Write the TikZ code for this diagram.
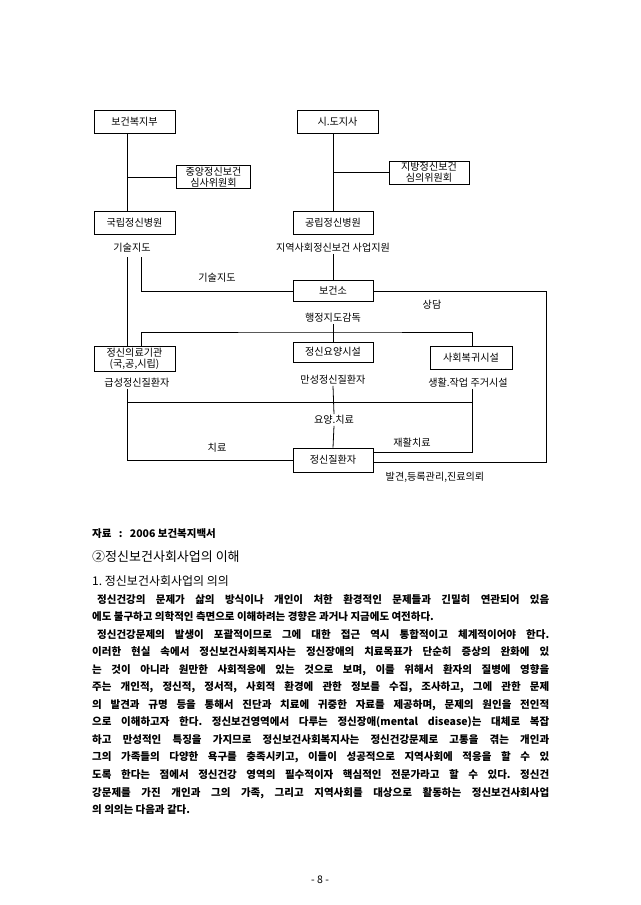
\documentclass[tikz,border=0pt]{standalone}
\usepackage{fontspec}
\setmainfont{Noto Sans CJK KR}
\frenchspacing
\newcommand{\dtext}{\fontsize{10.1}{11.3}\selectfont}
\newcommand{\btext}{\fontsize{10.5}{12}\selectfont}
\newcommand{\jl}[1]{\makebox[457pt][s]{#1}}
\newcommand{\jli}[1]{\makebox[452pt][s]{#1}}
\begin{document}
\begin{tikzpicture}[x=1pt,y=-1pt,
  box/.style={draw, line width=0.8pt, minimum height=23pt, inner sep=1pt, font=\dtext, align=center},
  lbl/.style={font=\dtext, inner sep=1pt},
  conn/.style={line width=0.8pt},
  bodyln/.style={anchor=base west, inner sep=0pt, font=\bfseries\btext}]
\fill[white] (0,0) rectangle (640,905);
\useasboundingbox (0,0) rectangle (640,905);

% boxes
\node[box, minimum width=81pt] (mohw) at (134.5,121.5) {보건복지부};
\node[box, minimum width=81pt] (sido) at (337.5,121.5) {시.도지사};
\node[box, minimum width=74pt] (central) at (213.5,177) {중앙정신보건\\심사위원회};
\node[box, minimum width=80pt] (regional) at (429,172.5) {지방정신보건\\심의위원회};
\node[box, minimum width=81pt] (natl) at (134.5,223) {국립정신병원};
\node[box, minimum width=80pt] (publ) at (333,223) {공립정신병원};
\node[box, minimum width=80pt, minimum height=21pt] (health) at (333,291) {보건소};
\node[box, minimum width=81pt, minimum height=25pt] (medinst) at (134.5,358.5) {정신의료기관\\(국,공,시립)};
\node[box, minimum width=80pt, minimum height=20pt] (nursing) at (333,352) {정신요양시설};
\node[box, minimum width=82pt] (rehab) at (471,357.5) {사회복귀시설};
\node[box, minimum width=80pt, minimum height=24pt] (patient) at (333,460) {정신질환자};

% labels
\node[lbl] (ttech1) at (132,248) {기술지도};
\node[lbl] (tcomm) at (333,248) {지역사회정신보건 사업지원};
\node[lbl] (ttech2) at (217,278) {기술지도};
\node[lbl] (tcounsel) at (432,305) {상담};
\node[lbl] (tadmin) at (333,318) {행정지도감독};
\node[lbl] (tacute) at (137,383) {급성정신질환자};
\node[lbl] (tchronic) at (333,380) {만성정신질환자};
\node[lbl] (tlife) at (468,383) {생활.작업 주거시설};
\node[lbl] (tcare) at (334,420) {요양.치료};
\node[lbl] (ttreat) at (217,448) {치료};
\node[lbl] (trehab) at (412,443) {재활치료};
\node[lbl] (tfind) at (435,477) {발견,등록관리,진료의뢰};

% connectors
\coordinate (techtop) at (134.5,257);
\coordinate (bar1) at (333,332);
\coordinate (bar2) at (333,402);
\coordinate (rc) at (546,462);

\draw[conn] ([xshift=-7.5pt]mohw.south) -- ([xshift=-7.5pt]natl.north);
\draw[conn] (central.west) -- ([xshift=-7.5pt]mohw.south |- central.west);
\draw[conn] ([xshift=-4.5pt]sido.south) -- (publ.north);
\draw[conn] (regional.west) -- (publ.north |- regional.west);
\draw[conn] (tcomm.south) -- (health.north);
\draw[conn] ([xshift=-7.5pt]medinst.north |- techtop) -- ([xshift=-7.5pt]medinst.north);
\draw[conn] ([xshift=6.5pt]medinst.north |- techtop) |- (health.west);
\draw[conn] (health.east) -| (rc) -- (rc -| patient.east);
\draw[conn] (tadmin.south) -- (nursing.north);
\draw[conn] ([xshift=6.5pt]medinst.north) |- (bar1) -| ([xshift=1pt]rehab.north);
\draw[conn] ([xshift=-7.5pt]medinst.north |- tacute.south) |- (patient.west);
\draw[conn] ([xshift=-7.5pt]medinst.north |- bar2) -- ([xshift=1pt]rehab.north |- bar2);
\draw[conn] (tchronic.south) -- (tcare.north);
\draw[conn] (tcare.south) -- (patient.north);
\draw[conn] ([xshift=1pt]rehab.north |- tlife.south) |- ([yshift=8pt]patient.east);

% text below
\node[bodyln, font=\bfseries\fontsize{10.5}{12}\selectfont] (src) at (92,537) {자료\hspace{0.7em}:\hspace{0.7em}2006 보건복지백서};
\node[bodyln, font=\mdseries\fontsize{13}{15}\selectfont] (h1) at (92,561) {②정신보건사회사업의 이해};
\node[bodyln, font=\mdseries\fontsize{12}{15}\selectfont] (h2) at (92,585) {1. 정신보건사회사업의 의의};

\node[bodyln] (p1) at (97,603) {\jli{정신건강의 문제가 삶의 방식이나 개인이 처한 환경적인 문제들과 긴밀히 연관되어 있음}};
\node[bodyln] (p2) at (92,620.55) {에도 불구하고 의학적인 측면으로 이해하려는 경향은 과거나 지금에도 여전하다.};
\node[bodyln] (p3) at (97,638.1) {\jli{정신건강문제의 발생이 포괄적이므로 그에 대한 접근 역시 통합적이고 체계적이어야 한다.}};
\node[bodyln] (p4) at (92,655.65) {\jl{이러한 현실 속에서 정신보건사회복지사는 정신장애의 치료목표가 단순히 증상의 완화에 있}};
\node[bodyln] (p5) at (92,673.2) {\jl{는 것이 아니라 원만한 사회적응에 있는 것으로 보며, 이를 위해서 환자의 질병에 영향을}};
\node[bodyln] (p6) at (92,690.75) {\jl{주는 개인적, 정신적, 정서적, 사회적 환경에 관한 정보를 수집, 조사하고, 그에 관한 문제}};
\node[bodyln] (p7) at (92,708.3) {\jl{의 발견과 규명 등을 통해서 진단과 치료에 귀중한 자료를 제공하며, 문제의 원인을 전인적}};
\node[bodyln] (p8) at (92,725.85) {\jl{으로 이해하고자 한다. 정신보건영역에서 다루는 정신장애(mental disease)는 대체로 복잡}};
\node[bodyln] (p9) at (92,743.4) {\jl{하고 만성적인 특징을 가지므로 정신보건사회복지사는 정신건강문제로 고통을 겪는 개인과}};
\node[bodyln] (p10) at (92,760.95) {\jl{그의 가족들의 다양한 욕구를 충족시키고, 이들이 성공적으로 지역사회에 적응을 할 수 있}};
\node[bodyln] (p11) at (92,778.5) {\jl{도록 한다는 점에서 정신건강 영역의 필수적이자 핵심적인 전문가라고 할 수 있다. 정신건}};
\node[bodyln] (p12) at (92,796.05) {\jl{강문제를 가진 개인과 그의 가족, 그리고 지역사회를 대상으로 활동하는 정신보건사회사업}};
\node[bodyln] (p13) at (92,813.6) {의 의의는 다음과 같다.};

\node[font=\btext, inner sep=0pt] (pg) at (320,880) {- 8 -};
\end{tikzpicture}
\end{document}
